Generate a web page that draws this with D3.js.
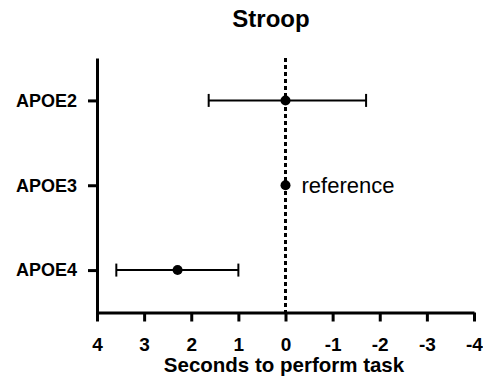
<!DOCTYPE html>
<html>
<head>
<meta charset="utf-8">
<script src="https://cdn.jsdelivr.net/npm/d3@7"></script>
<style>
	body { margin: 0; background: #fff; }
	svg { font-family: "Liberation Sans", Arial, sans-serif; }
</style>
</head>
<body>
<div id="chart"></div>
<script>
const groups = ['APOE2', 'APOE3', 'APOE4'];
const means = [0, 0, 2.29];
const lower = [1.63, null, 3.59];
const upper = [-1.71, null, 1.0];
const xTicks = [4, 3, 2, 1, 0, -1, -2, -3, -4];

const margin = { top: 58, right: 9, bottom: 70.5, left: 97 };
const width = 483 - margin.left - margin.right;
const height = 383 - margin.top - margin.bottom;

const svg = d3.select('#chart').append('svg')
	.attr('width', 483)
	.attr('height', 383);
const chart = svg.append('g')
	.attr('transform', `translate(${margin.left}, ${margin.top})`);

const x = d3.scaleLinear().domain([4, -4]).range([0, width]);
const y = d3.scalePoint().domain(groups).range([0, height]).padding(0.5);

const xAxis = d3.axisBottom(x)
	.tickValues(xTicks)
	.tickFormat(d => String(d))
	.tickSize(9)
	.tickPadding(16)
	.tickSizeOuter(0);
const yAxis = d3.axisLeft(y).tickSize(9).tickPadding(11).tickSizeOuter(0);

// dashed reference line at zero
chart.append('line')
	.attr('x1', x(0)).attr('x2', x(0))
	.attr('y1', 0).attr('y2', height)
	.style('stroke', '#000')
	.style('stroke-width', 3)
	.style('stroke-dasharray', '4, 3');

const xg = chart.append('g')
	.attr('transform', `translate(0, ${height})`)
	.call(xAxis);
const yg = chart.append('g').call(yAxis);

[xg, yg].forEach(g => {
	g.select('.domain').style('stroke-width', 3).style('stroke', '#000');
	g.selectAll('.tick line').style('stroke-width', 3).style('stroke', '#000');
	g.selectAll('.tick text')
		.style('font-weight', 'bold')
		.style('fill', '#000');
});
xg.selectAll('.tick text').style('font-size', '19px');
yg.selectAll('.tick text').style('font-size', '18px');

// error bars
const rows = groups.map((g, i) => ({ g, m: means[i], lo: lower[i], hi: upper[i] }));
const bars = rows.filter(d => d.lo !== null);
chart.selectAll('.err').data(bars).enter().append('line')
	.attr('x1', d => x(d.lo)).attr('x2', d => x(d.hi))
	.attr('y1', d => y(d.g)).attr('y2', d => y(d.g))
	.style('stroke', '#000').style('stroke-width', 2);
bars.forEach(d => {
	[d.lo, d.hi].forEach(v => {
		chart.append('line')
			.attr('x1', x(v)).attr('x2', x(v))
			.attr('y1', y(d.g) - 6.5).attr('y2', y(d.g) + 6.5)
			.style('stroke', '#000').style('stroke-width', 2);
	});
});

chart.selectAll('.pt').data(rows).enter().append('circle')
	.attr('cx', d => x(d.m))
	.attr('cy', d => y(d.g))
	.attr('r', 5)
	.style('fill', '#000');

chart.append('text')
	.attr('x', x(0) + 16)
	.attr('y', y('APOE3') + 7.5)
	.style('font-size', '22px')
	.text('reference');

// labels
svg.append('text')
	.attr('x', 271)
	.attr('y', 27)
	.style('font-size', '24px')
	.style('font-weight', 'bold')
	.style('text-anchor', 'middle')
	.text('Stroop');
svg.append('text')
	.attr('x', 284)
	.attr('y', 372)
	.style('font-size', '20.5px')
	.style('font-weight', 'bold')
	.style('text-anchor', 'middle')
	.text('Seconds to perform task');
</script>
</body>
</html>
